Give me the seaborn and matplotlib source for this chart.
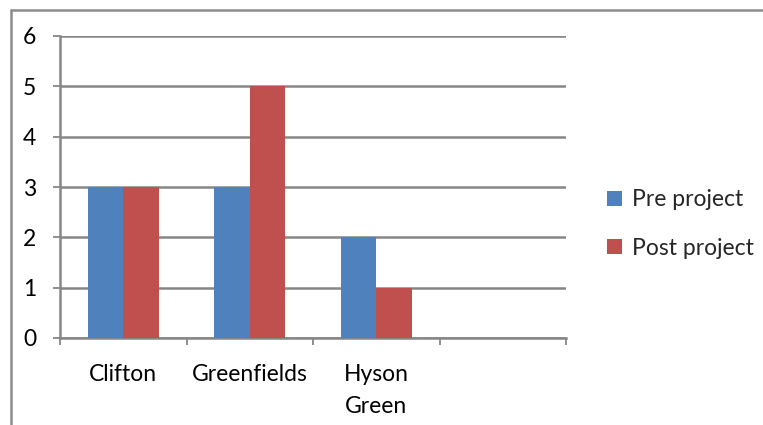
import matplotlib
matplotlib.use("Agg")
import matplotlib.pyplot as plt
from matplotlib.lines import Line2D
import seaborn as sns
import pandas as pd

categories = ["Clifton", "Greenfields", "Hyson\nGreen"]
pre_project = [3, 3, 2]
post_project = [3, 5, 1]
series_names = ["Pre project", "Post project"]
y_ticks = [0, 1, 2, 3, 4, 5, 6]

df = pd.DataFrame({
    "site": categories * 2,
    "value": pre_project + post_project,
    "series": [series_names[0]] * 3 + [series_names[1]] * 3,
})

sns.set_style("white")
plt.rcParams["font.family"] = ["Lato", "DejaVu Sans"]

W, H = 763, 425
FS = 16.5
fig = plt.figure(figsize=(W / 100, H / 100), dpi=100)
ax = fig.add_axes([60 / W, (H - 338) / H, (566 - 60) / W, (338 - 36) / H])

grid_col = "#868686"
sns.barplot(data=df, x="site", y="value", hue="series", order=categories,
            palette=["#4F81BD", "#C0504D"], width=0.56, saturation=1,
            linewidth=0, ax=ax, zorder=3, legend=True)

ax.set_xlim(-0.5, 3.5)
ax.set_ylim(0, 6)
ax.set_yticks(y_ticks)
ax.set_yticklabels([str(v) for v in y_ticks])
ax.set_xlabel("")
ax.set_ylabel("")

# horizontal gridlines
ax.yaxis.grid(True, color=grid_col, linewidth=1.8, zorder=0)
ax.set_axisbelow(True)

# category labels centred, tick marks on category boundaries
ax.set_xticks([0, 1, 2])
ax.set_xticklabels(categories, linespacing=1.6, va="top")
ax.set_xticks([-0.5, 0.5, 1.5, 2.5, 3.5], minor=True)
ax.tick_params(axis="x", which="major", length=0, pad=19, labelsize=FS, colors="black")
ax.tick_params(axis="x", which="minor", bottom=True, length=5, width=1.3,
               color=grid_col, direction="out")
ax.tick_params(axis="y", left=True, length=5, width=1.3, color=grid_col,
               direction="out", pad=12, labelsize=FS, labelcolor="black")

for s in ["top", "right"]:
    ax.spines[s].set_visible(False)
for s in ["left", "bottom"]:
    ax.spines[s].set_color(grid_col)
    ax.spines[s].set_linewidth(1.8)

leg = ax.legend(loc="center left", bbox_to_anchor=(1.04, 0.377), frameon=False,
                fontsize=FS, handlelength=0.65, handleheight=0.65,
                labelspacing=1.2, handletextpad=0.45)

# outer frame (left and top edges)
fig.add_artist(Line2D([10.5 / W, 10.5 / W], [0, 1 - 9.5 / H], transform=fig.transFigure,
                      color="#8c8c8c", linewidth=1.8))
fig.add_artist(Line2D([10.5 / W, 1], [1 - 9.5 / H, 1 - 9.5 / H], transform=fig.transFigure,
                      color="#8c8c8c", linewidth=1.8))

fig.savefig("out.png", dpi=100)
